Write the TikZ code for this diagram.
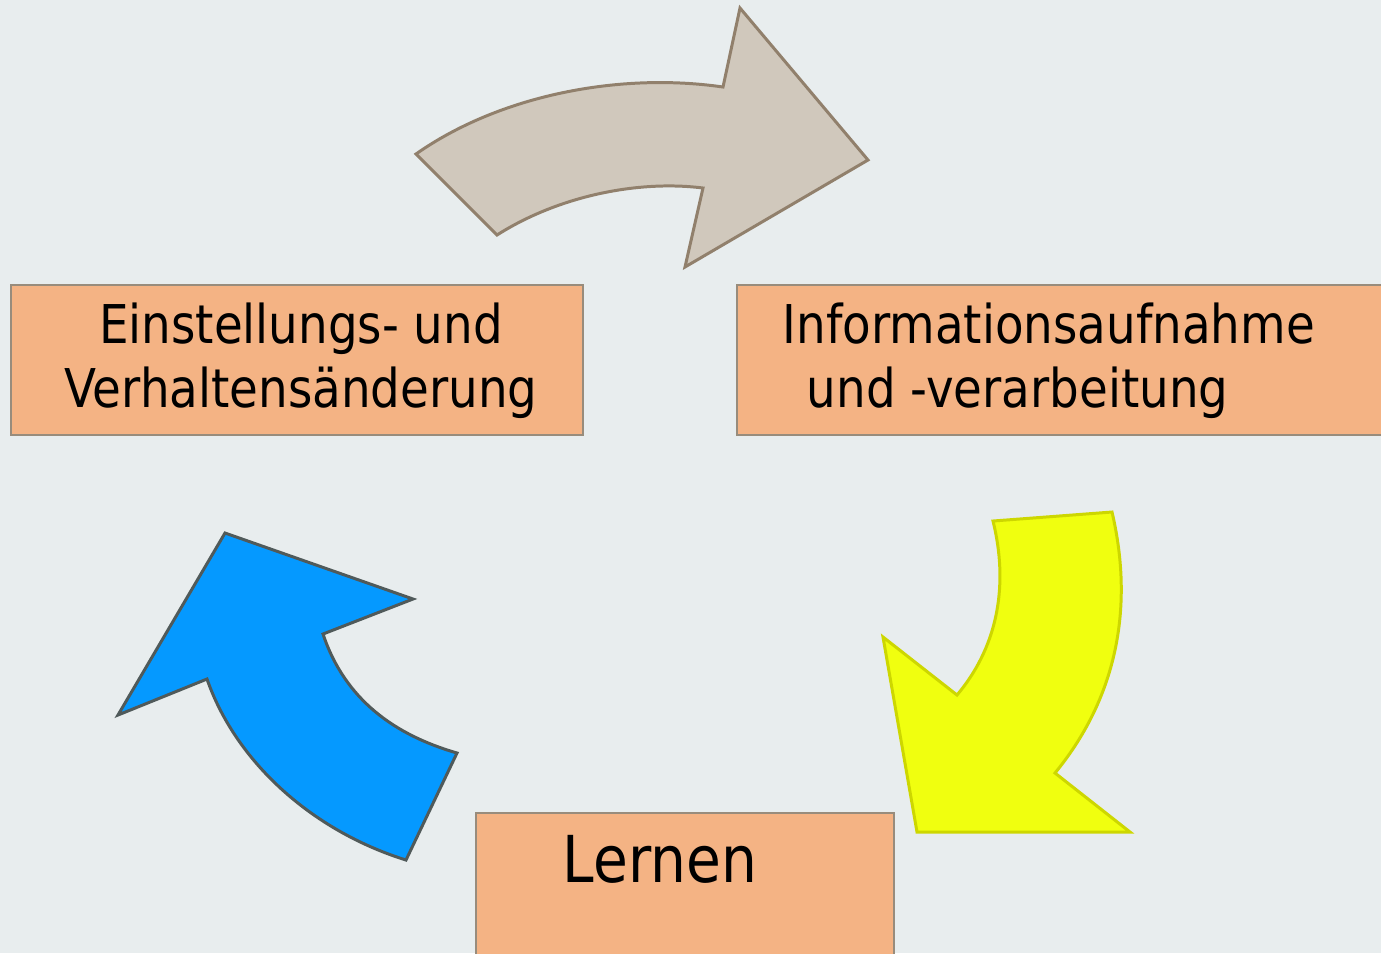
\documentclass[tikz,border=0pt]{standalone}
\usepackage{fontspec}
\setmainfont{DejaVu Sans}[FakeStretch=0.875]
\usepackage{tikz}
\usetikzlibrary{positioning}
\definecolor{bgcol}{RGB}{232,237,238}
\definecolor{boxfill}{RGB}{244,179,132}
\definecolor{boxline}{RGB}{152,140,124}
\definecolor{greyfill}{RGB}{208,200,188}
\definecolor{greyline}{RGB}{145,128,108}
\definecolor{yelfill}{RGB}{240,255,15}
\definecolor{yelline}{RGB}{205,215,0}
\definecolor{bluefill}{RGB}{5,153,255}
\definecolor{blueline}{RGB}{80,90,90}

\begin{document}
\begin{tikzpicture}[x=0.01cm,y=-0.01cm,% pixel grid, y pointing down
		every node/.style={
			inner sep=0pt,
			font=\fontsize{15.2}{18.2}\selectfont
		},
		stepbox/.style={rectangle,draw=boxline,line width=0.45pt,fill=boxfill,minimum height=1.5cm},
		bigarrow/.style={line width=0.85pt,line join=miter}
	]
	% page and background
	\fill[bgcol] (0,0) rectangle (1381,953);
	\useasboundingbox (0,0) rectangle (1381,953);

	% the three boxes
	\node[stepbox,minimum width=5.72cm](Einst) at (297,360){};
	\node[stepbox,minimum width=6.5cm](Info) at (1062,360){};
	\node[stepbox,minimum width=4.18cm,minimum height=1.6cm](Lern) at (685,893){};

	% base anchor sits on the last line
	\node[align=center,anchor=base](EinstText) at (301,407){Einstellungs- und\\Verhaltensänderung};
	\node[align=left,anchor=base west](InfoText) at (782,407){Informationsaufnahme\\\hspace{0.24cm}und -verarbeitung};
	\node[anchor=base west,font=\fontsize{18.4}{22}\selectfont](LernText) at (562,882){Lernen};

	% grey arrow (top)
	\draw[bigarrow,draw=greyline,fill=greyfill]
		(416,154) .. controls (500,95) and (620,72) .. (723,87)
		-- (740,8) -- (868,160) -- (685,267) -- (703,188)
		.. controls (640,180) and (560,195) .. (497,235) -- cycle;

	% yellow arrow (right)
	\draw[bigarrow,draw=yelline,fill=yelfill]
		(993,521) -- (1112,512)
		.. controls (1135,610) and (1115,700) .. (1055,773)
		-- (1130,832) -- (917,832) -- (883,637) -- (957,695)
		.. controls (995,650) and (1010,590) .. (993,521) -- cycle;

	% blue arrow (left)
	\draw[bigarrow,draw=blueline,fill=bluefill]
		(225,533) -- (413,599) -- (323,634)
		.. controls (345,700) and (395,735) .. (457,753)
		-- (406,860)
		.. controls (310,830) and (235,760) .. (207,679)
		-- (118,715) -- cycle;
\end{tikzpicture}
\end{document}
